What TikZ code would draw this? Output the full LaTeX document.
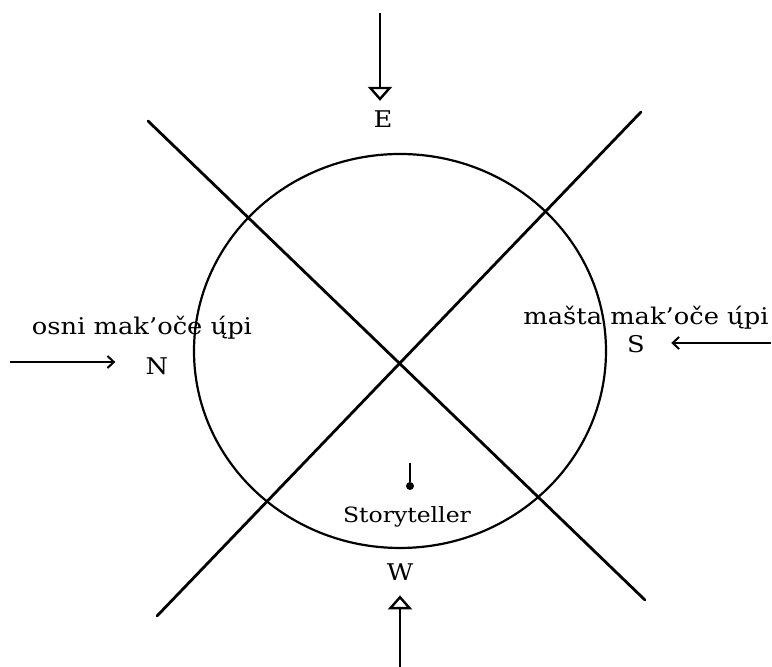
\documentclass[tikz,border=0pt]{standalone}
\usepackage{fontspec}
\setmainfont[FakeStretch=1.12]{DejaVu Serif}
\usetikzlibrary{arrows.meta}
\tikzset{
  lbl/.style={inner sep=0pt, anchor=base, font=\fontsize{11.5}{13}\selectfont},
  small lbl/.style={inner sep=0pt, anchor=base, font=\fontsize{10.5}{12}\selectfont},
  xline/.style={line width=1.4pt, line cap=round},
  ring/.style={line width=1.1pt},
  triarrow/.style={line width=0.9pt, -{Triangle[open,width=12pt,length=7pt,line width=1.2pt]}},
  chevarrow/.style={line width=0.9pt, -{Straight Barb[length=3.2pt,width=6pt,line width=1pt]}},
}
\begin{document}
\begin{tikzpicture}[x=0.5pt,y=-0.5pt]
\useasboundingbox (0,0) rectangle (772,667);
% circle
\draw[ring] (400,351) ellipse [x radius=103pt, y radius=98.5pt];
% crossing lines
\coordinate (l1a) at (148,121);
\coordinate (l1b) at (645,600);
\coordinate (l2a) at (641,112);
\coordinate (l2b) at (157,616);
\draw[xline] (l1a) -- (l1b);
\draw[xline] (l2a) -- (l2b);
% direction labels
\node[lbl] (E) at (383,128) {E};
\node[lbl] (W) at (400,581) {W};
\node[lbl] (N) at (157,375) {N};
\node[lbl] (S) at (636,353) {S};
\node[lbl] (osni) at (142,335) {osni mak’oče ų́pi};
\node[lbl] (masta) at (646,325) {mašta mak’oče ų́pi};
% arrows
\coordinate (etop) at (380,13);
\coordinate (wbot) at (400,667);
\coordinate (nleft) at (10,362);
\coordinate (sright) at (771,343);
\draw[triarrow, shorten >=5pt] (etop) -- (etop |- E.north);
\draw[triarrow, shorten >=7pt] (wbot) -- (wbot |- W.south);
\draw[chevarrow, shorten >=15pt] (nleft) -- (nleft -| N.west);
\draw[chevarrow, shorten >=13pt] (sright) -- (sright -| S.east);
% storyteller
\node[circle, fill, inner sep=0pt, minimum size=4pt] (dot) at (410,486) {};
\coordinate (stick) at (410,463);
\draw[line width=1pt] (stick) -- (dot);
\node[small lbl] (story) at (407,523) {Storyteller};
\end{tikzpicture}
\end{document}
